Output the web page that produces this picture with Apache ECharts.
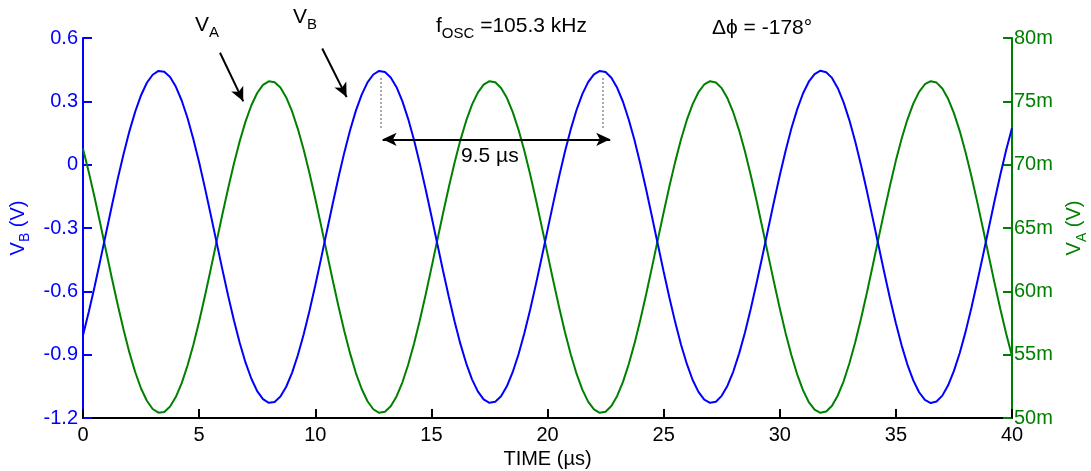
<!DOCTYPE html>
<html>
<head>
<meta charset="utf-8">
<title>VA / VB oscillation</title>
<script src="https://cdn.jsdelivr.net/npm/echarts@6/dist/echarts.min.js"></script>
<style>
  html, body { margin: 0; padding: 0; background: #fff; }
  #chart { width: 1091px; height: 471px; }
</style>
</head>
<body>
<div id="chart"></div>
<script>
// time base, µs (every 0.25 µs from 0 to 40)
var time = []
for (var i = 0; i <= 160; i++) time.push(i * 0.25)

// V_B (V), left axis
var vB = [
  -0.808, -0.697, -0.577, -0.450, -0.320, -0.191, -0.065, 0.052, 0.159, 0.252,
  0.329, 0.388, 0.426, 0.444, 0.440, 0.415, 0.369, 0.304, 0.221, 0.122,
  0.011, -0.110, -0.237, -0.367, -0.496, -0.621, -0.738, -0.845, -0.938, -1.014,
  -1.073, -1.111, -1.128, -1.124, -1.098, -1.052, -0.986, -0.903, -0.804, -0.693,
  -0.572, -0.445, -0.315, -0.186, -0.061, 0.057, 0.163, 0.256, 0.332, 0.390,
  0.427, 0.444, 0.439, 0.413, 0.367, 0.301, 0.217, 0.118, 0.006, -0.115,
  -0.242, -0.372, -0.501, -0.626, -0.743, -0.849, -0.941, -1.017, -1.074, -1.112,
  -1.128, -1.123, -1.097, -1.050, -0.983, -0.899, -0.800, -0.688, -0.567, -0.440,
  -0.310, -0.181, -0.056, 0.061, 0.167, 0.259, 0.334, 0.391, 0.428, 0.444,
  0.439, 0.412, 0.364, 0.298, 0.213, 0.114, 0.002, -0.119, -0.247, -0.377,
  -0.506, -0.630, -0.747, -0.853, -0.944, -1.020, -1.076, -1.113, -1.128, -1.123,
  -1.095, -1.047, -0.980, -0.895, -0.796, -0.684, -0.562, -0.435, -0.305, -0.176,
  -0.051, 0.065, 0.171, 0.262, 0.337, 0.393, 0.429, 0.445, 0.438, 0.411,
  0.362, 0.295, 0.210, 0.110, -0.003, -0.124, -0.252, -0.382, -0.511, -0.635,
  -0.751, -0.857, -0.948, -1.022, -1.078, -1.114, -1.129, -1.122, -1.094, -1.045,
  -0.977, -0.892, -0.792, -0.679, -0.557, -0.430, -0.300, -0.171, -0.047, 0.069,
  0.174
]

// V_A (mV), right axis
var vA = [
  71.26, 69.41, 67.41, 65.29, 63.13, 60.98, 58.90, 56.94, 55.16, 53.61,
  52.33, 51.36, 50.71, 50.42, 50.48, 50.90, 51.67, 52.75, 54.14, 55.77,
  57.62, 59.63, 61.75, 63.91, 66.06, 68.14, 70.10, 71.87, 73.42, 74.69,
  75.66, 76.30, 76.58, 76.51, 76.09, 75.31, 74.22, 72.83, 71.19, 69.34,
  67.33, 65.21, 63.05, 60.90, 58.82, 56.87, 55.10, 53.55, 52.29, 51.32,
  50.69, 50.41, 50.49, 50.93, 51.70, 52.80, 54.20, 55.84, 57.70, 59.71,
  61.83, 64.00, 66.15, 68.22, 70.17, 71.94, 73.47, 74.74, 75.69, 76.32,
  76.59, 76.50, 76.06, 75.28, 74.17, 72.77, 71.12, 69.26, 67.25, 65.13,
  62.96, 60.81, 58.74, 56.79, 55.03, 53.50, 52.24, 51.29, 50.68, 50.41,
  50.50, 50.95, 51.74, 52.85, 54.26, 55.91, 57.77, 59.79, 61.91, 64.08,
  66.23, 68.30, 70.24, 72.00, 73.53, 74.78, 75.72, 76.33, 76.59, 76.49,
  76.04, 75.24, 74.12, 72.71, 71.06, 69.19, 67.17, 65.04, 62.88, 60.73,
  58.66, 56.72, 54.97, 53.45, 52.20, 51.26, 50.66, 50.41, 50.51, 50.97,
  51.78, 52.90, 54.32, 55.98, 57.85, 59.87, 62.00, 64.16, 66.31, 68.38,
  70.32, 72.07, 73.58, 74.82, 75.75, 76.35, 76.59, 76.48, 76.01, 75.20,
  74.07, 72.65, 70.98, 69.11, 67.08, 64.96, 62.79, 60.65, 58.58, 56.65,
  54.90
]

// annotation anchors in data units (time µs, V_B volts)
var arrowA = [[5.9, 0.53], [6.9, 0.30]]
var arrowB = [[10.3, 0.55], [11.35, 0.32]]
var periodArrow = [[12.9, 0.12], [22.7, 0.12]]
var periodMarks = [12.8, 22.4]
var periodMarkRange = [0.41, 0.17]

var BLUE = '#0000ff'
var GREEN = '#008000'
var FONT = 'Liberation Sans, Arial, sans-serif'

function zip(xs, ys) {
  return xs.map(function (x, i) { return [x, ys[i]] })
}

function subRich(color, size) {
  return {
    m: { fontSize: size, color: color, fontFamily: FONT },
    s: { fontSize: Math.round(size * 0.72), color: color, fontFamily: FONT, padding: [15, 0, 0, 0] }
  }
}

var chart = echarts.init(document.getElementById('chart'))

var blackLine = { color: '#000', width: 2, type: 'solid' }
var grayDots = { color: '#aaa', width: 2, type: 'dotted' }

var option = {
  animation: false,
  backgroundColor: '#fff',
  textStyle: { fontFamily: FONT },
  grid: { left: 83, right: 79, top: 38, bottom: 53, containLabel: false, outerBoundsMode: 'none' },
  xAxis: {
    type: 'value',
    min: 0,
    max: 40,
    interval: 5,
    name: 'TIME (\u00b5s)',
    nameLocation: 'middle',
    nameGap: 28,
    nameTextStyle: { fontSize: 20, color: '#000', fontFamily: FONT },
    axisLine: { onZero: false, lineStyle: { color: '#000', width: 2 } },
    axisTick: { inside: true, length: 9, lineStyle: { color: '#000', width: 2 } },
    axisLabel: { fontSize: 20, color: '#000', margin: 7, fontFamily: FONT },
    splitLine: { show: false }
  },
  yAxis: [{
    type: 'value',
    position: 'left',
    min: -1.2,
    max: 0.6,
    interval: 0.3,
    name: '{m|V}{s|B}{m| (V)}',
    nameLocation: 'middle',
    nameRotate: 90,
    nameGap: 42,
    nameTextStyle: { rich: subRich(BLUE, 20) },
    axisLine: { show: true, onZero: false, lineStyle: { color: BLUE, width: 2 } },
    axisTick: { show: true, inside: true, length: 9, lineStyle: { color: BLUE, width: 2 } },
    axisLabel: {
      fontSize: 20, color: BLUE, margin: 5, fontFamily: FONT,
      formatter: function (v) { return String(Math.round(v * 10) / 10) }
    },
    splitLine: { show: false }
  }, {
    type: 'value',
    position: 'right',
    min: 50,
    max: 80,
    interval: 5,
    name: '{m|V}{s|A}{m| (V)}',
    nameLocation: 'middle',
    nameRotate: 90,
    nameGap: 48,
    nameTextStyle: { rich: subRich(GREEN, 20) },
    axisLine: { show: true, onZero: false, lineStyle: { color: GREEN, width: 2 } },
    axisTick: { show: true, inside: true, length: 9, lineStyle: { color: GREEN, width: 2 } },
    axisLabel: { fontSize: 20, color: GREEN, margin: 2, fontFamily: FONT, formatter: '{value}m' },
    splitLine: { show: false }
  }],
  series: [{
    name: 'V_B',
    type: 'line',
    yAxisIndex: 0,
    data: zip(time, vB),
    showSymbol: false,
    smooth: false,
    lineStyle: { color: BLUE, width: 2 },
    itemStyle: { color: BLUE },
    z: 3,
    markLine: {
      silent: true,
      animation: false,
      label: { show: false },
      symbolSize: [10, 14],
      data: [
        [{ coord: arrowA[0], symbol: 'none' },
         { coord: arrowA[1], symbol: 'arrow', lineStyle: blackLine }],
        [{ coord: arrowB[0], symbol: 'none' },
         { coord: arrowB[1], symbol: 'arrow', lineStyle: blackLine }],
        [{ coord: periodArrow[0], symbol: 'arrow' },
         { coord: periodArrow[1], symbol: 'arrow', lineStyle: blackLine }],
        [{ coord: [periodMarks[0], periodMarkRange[0]], symbol: 'none' },
         { coord: [periodMarks[0], periodMarkRange[1]], symbol: 'none', lineStyle: grayDots }],
        [{ coord: [periodMarks[1], periodMarkRange[0]], symbol: 'none' },
         { coord: [periodMarks[1], periodMarkRange[1]], symbol: 'none', lineStyle: grayDots }]
      ]
    }
  }, {
    name: 'V_A',
    type: 'line',
    yAxisIndex: 1,
    data: zip(time, vA),
    showSymbol: false,
    smooth: false,
    lineStyle: { color: GREEN, width: 2 },
    itemStyle: { color: GREEN },
    z: 2
  }],
  graphic: [{
    type: 'text', left: 195, top: 15,
    style: { text: '{m|V}{s|A}', rich: subRich('#000', 21) }
  }, {
    type: 'text', left: 293, top: 7,
    style: { text: '{m|V}{s|B}', rich: subRich('#000', 21) }
  }, {
    type: 'text', left: 436, top: 16,
    style: { text: '{m|f}{s|OSC}{m| =105.3 kHz}', rich: subRich('#000', 21) }
  }, {
    type: 'text', left: 712, top: 18,
    style: { text: '\u0394\u03d5 = -178\u00b0', fontSize: 21, fill: '#000', fontFamily: FONT }
  }, {
    type: 'text', left: 461, top: 146,
    style: { text: '9.5 \u00b5s', fontSize: 21, fill: '#000', fontFamily: FONT }
  }]
}

chart.setOption(option)
</script>
</body>
</html>
